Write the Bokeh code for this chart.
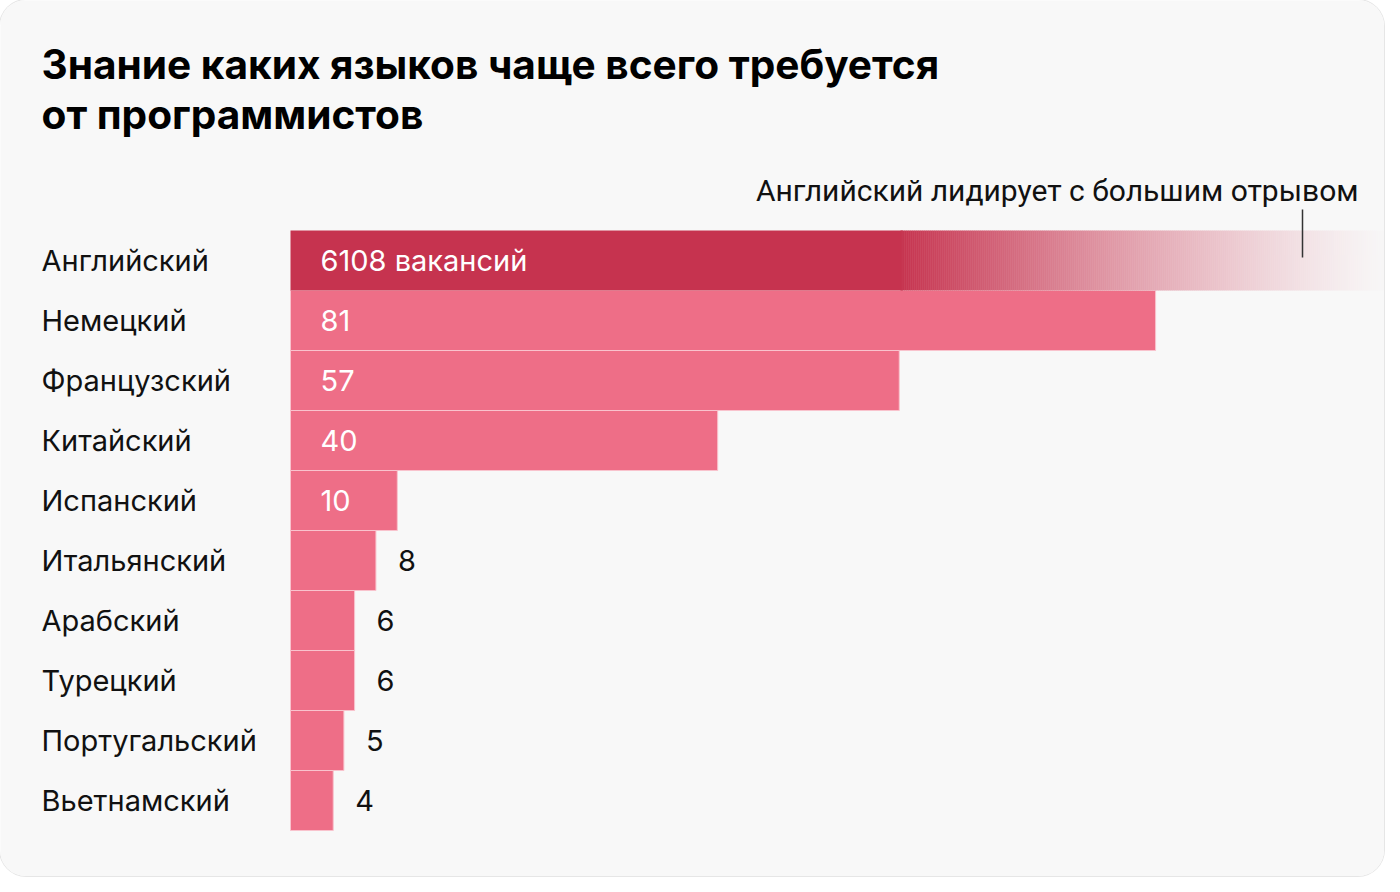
from bokeh.plotting import figure
from bokeh.models import Range1d, Label, ColumnDataSource
from bokeh.core.properties import value
from bokeh.embed import file_html
from bokeh.resources import INLINE

# ---- data ----
languages = ["Английский", "Немецкий", "Французский", "Китайский", "Испанский",
             "Итальянский", "Арабский", "Турецкий", "Португальский", "Вьетнамский"]
vacancies = [6108, 81, 57, 40, 10, 8, 6, 6, 5, 4]
title_lines = ["Знание каких языков чаще всего требуется", "от программистов"]
annotation = "Английский лидирует с большим отрывом"
leader_suffix = " вакансий"

# ---- layout ----
W, H = 1384, 876
OFF = 0                      # figure origin on the screenshot
PX = 10.68                   # pixels per vacancy
X0 = 290 - OFF               # frame pixel of zero
ROW = 60
Y0 = 260 - OFF               # frame pixel of first row centre

xr = Range1d(-X0 / PX, (W - X0) / PX)
yr = Range1d((H - Y0) / ROW, -Y0 / ROW)

def sx(px):  # screen x -> data x
    return (px - OFF - X0) / PX

def sy(py):  # screen y -> data y
    return (py - OFF - Y0) / ROW

BG = (248, 248, 248)
PINK = "#ee6e87"
RED = (198, 51, 79)
SEP = "#f9c3cd"
FONT = "Inter"
FS = "29px"

def hexc(c):
    return "#%02x%02x%02x" % tuple(int(round(v)) for v in c)

p = figure(width=W, height=H, x_range=xr, y_range=yr, output_backend="svg",
           toolbar_location=None, min_border=0)
p.axis.visible = False
p.grid.visible = False
p.background_fill_color = hexc(BG)
p.border_fill_color = hexc(BG)
p.outline_line_color = None
p.styles = {"border-radius": "26px", "overflow": "hidden", "box-shadow": "0 0 0 1px #e6e6e6"}

ys = list(range(len(languages)))

# regular bars
others = ColumnDataSource(dict(y=ys[1:], right=vacancies[1:]))
p.hbar(y="y", left=0, right="right", height=1, source=others,
       fill_color=PINK, line_color=SEP, line_width=1)

# leader bar (off scale): solid part, then a fade made of opaque 2px columns
fade_px0, fade_px1 = 900, 1398
p.hbar(y=[0], left=[0], right=[sx(fade_px0) + 0.2], height=1,
       fill_color=hexc(RED), line_color=None)
lefts, rights, cols = [], [], []
for px in range(fade_px0, W, 2):
    t = (px + 1 - fade_px0) / (fade_px1 - fade_px0)
    al = max(0.0, 1 - t) ** 1.3
    cols.append(hexc([BG[j] + (RED[j] - BG[j]) * al for j in range(3)]))
    lefts.append(sx(px))
    rights.append(sx(px + 2.4))
p.hbar(y=[0] * len(lefts), left=lefts, right=rights, height=1,
       fill_color=cols, line_color=None)

# category labels
p.text(x=[sx(41)] * len(languages), y=ys, text=languages,
       text_font=value(FONT), text_font_size=FS, text_color="#111111",
       text_baseline="middle", text_align="left")

# value labels
inside_x, inside_y, inside_t = [], [], []
out_x, out_y, out_t = [], [], []
for i, v in enumerate(vacancies):
    t = str(v) + (leader_suffix if i == 0 else "")
    if v >= 10:
        inside_x.append(sx(320)); inside_y.append(i); inside_t.append(t)
    else:
        out_x.append(v + 22 / PX); out_y.append(i); out_t.append(t)
p.text(x=inside_x, y=inside_y, text=inside_t, text_font=value(FONT),
       text_font_size=FS, text_color="white", text_baseline="middle")
p.text(x=out_x, y=out_y, text=out_t, text_font=value(FONT),
       text_font_size=FS, text_color="#111111", text_baseline="middle")

# annotation
p.text(x=[sx(1358)], y=[sy(190)], text=[annotation], text_font=value("Roboto"),
       text_font_size="30px", text_color="#111111", text_baseline="middle",
       text_align="right")
p.segment(x0=[sx(1302)], y0=[sy(209)], x1=[sx(1302)], y1=[sy(257)],
          line_color="#333333", line_width=1.5)

# title
for k, line in enumerate(title_lines):
    p.add_layout(Label(x=41 - OFF, y=H - (64 - OFF) - k * 50, x_units="screen", y_units="screen",
                       text=line, text_font=FONT, text_font_size="40.6px",
                       text_font_style="bold", text_color="#000000",
                       text_baseline="middle"))

open("out.html", "w").write(file_html(p, INLINE))
